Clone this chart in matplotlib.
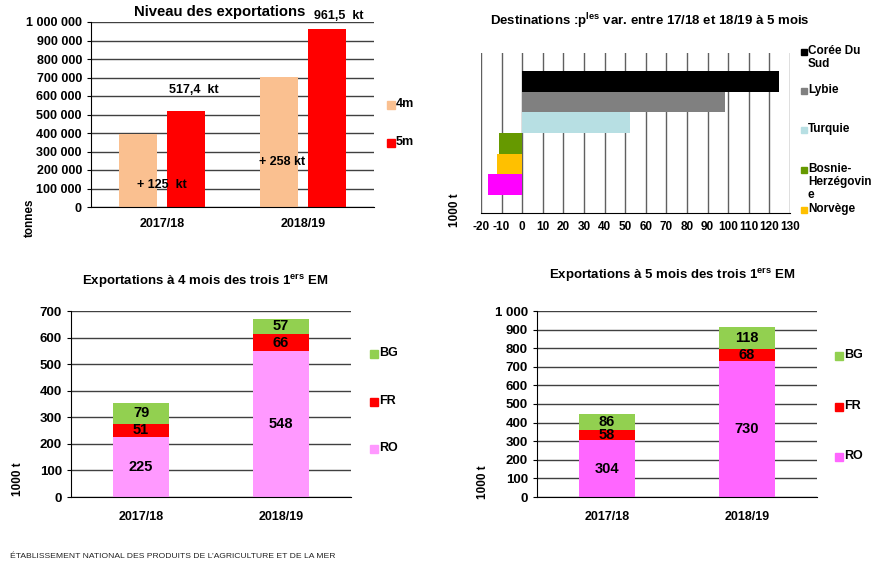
import matplotlib
matplotlib.use("Agg")
import matplotlib.pyplot as plt
from matplotlib.patches import Rectangle
from matplotlib.ticker import FuncFormatter, MultipleLocator
import numpy as np

plt.rcParams['font.family'] = ['Liberation Sans', 'DejaVu Sans']
plt.rcParams['font.weight'] = 'bold'
plt.rcParams['axes.unicode_minus'] = False
plt.rcParams['mathtext.fontset'] = 'custom'
plt.rcParams['mathtext.rm'] = 'Liberation Sans:bold'
plt.rcParams['mathtext.bf'] = 'Liberation Sans:bold'

# ---------------- donnees ----------------
campagnes = ["2017/18", "2018/19"]
exp_4m = [392400, 703500]
exp_5m = [517400, 961500]
annot_5m = ["517,4  kt", "961,5  kt"]
annot_diff = ["+ 125  kt", "+ 258 kt"]

destinations = ["Corée Du\nSud", "Lybie", "Turquie", "Bosnie-\nHerzégovin\ne", "Norvège", "Autre"]
var_dest = [124.5, 98.5, 52.5, -11.5, -12.0, -16.5]
col_dest = ["#000000", "#808080", "#b7dfe3", "#669900", "#ffc000", "#ff00ff"]

em = ["RO", "FR", "BG"]
em_4m = {"RO": [225, 548], "FR": [51, 66], "BG": [79, 57]}
em_5m = {"RO": [304, 730], "FR": [58, 68], "BG": [86, 118]}

W, H = 876, 564
fig = plt.figure(figsize=(W / 100, H / 100), dpi=100)


def box(l, t, r, b):
    # pixels -> coordonnees figure
    return [l / W, 1 - b / H, (r - l) / W, (b - t) / H]


def legende(x, y, couleur, texte, size=9, carre=8, dx=9):
    fig.patches.append(Rectangle((x / W, 1 - (y + carre / 2) / H), carre / W, carre / H,
                                 transform=fig.transFigure, color=couleur))
    fig.text((x + dx) / W, 1 - (y - 7) / H, texte, fontsize=size, va='top',
             ha='left', linespacing=1.1)


def fmt_sp(v, pos):
    return f"{v:,.0f}".replace(",", " ")


def style_axes(ax):
    ax.spines['top'].set_visible(False)
    ax.spines['right'].set_visible(False)
    ax.spines['left'].set_color('black')
    ax.spines['bottom'].set_color('black')
    ax.yaxis.grid(True, color='#404040', lw=1)
    ax.set_axisbelow(True)
    ax.tick_params(axis='y', length=3, labelsize=9)
    ax.tick_params(axis='x', length=0, labelsize=9, pad=8)
    ax.yaxis.set_major_formatter(FuncFormatter(fmt_sp))


# ---------------- Niveau des exportations ----------------
ax1 = fig.add_axes(box(91, 22, 374, 207))
x = np.arange(len(campagnes))
ax1.bar(x - 0.169, exp_4m, 0.268, color="#fac090")
ax1.bar(x + 0.169, exp_5m, 0.268, color="#ff0000")
ax1.set_xlim(-0.5, 1.5)
ax1.set_ylim(0, 1000000)
ax1.yaxis.set_major_locator(MultipleLocator(100000))
ax1.set_xticks(x, campagnes)
style_axes(ax1)
ax1.text(0.23, 630000, annot_5m[0], fontsize=9, ha='center', va='center')
ax1.text(1.25, 1035000, annot_5m[1], fontsize=9, ha='center', va='center', clip_on=False)
ax1.text(0.0, 120000, annot_diff[0], fontsize=9, ha='center', va='center')
ax1.text(0.85, 245000, annot_diff[1], fontsize=9, ha='center', va='center')
fig.text(220 / W, 1 - 12 / H, "Niveau des exportations", fontsize=10.7, ha='center', va='center')
fig.text(30 / W, 1 - 218 / H, "tonnes", fontsize=8.5, rotation=90, ha='center', va='center')
legende(387, 105, "#fac090", "4m")
legende(387, 143, "#ff0000", "5m")

# ---------------- Destinations ----------------
ax2 = fig.add_axes(box(481, 53, 790, 213))
ypos = np.arange(len(destinations))[::-1]
ax2.barh(ypos, var_dest, height=1.0, color=col_dest)
ax2.set_xlim(-20, 130)
ax2.set_ylim(-1.37, 6.37)
ax2.xaxis.set_major_locator(MultipleLocator(10))
ax2.set_yticks([])
for s in ['top', 'right', 'left']:
    ax2.spines[s].set_visible(False)
ax2.spines['bottom'].set_color('black')
ax2.xaxis.grid(True, color='#606060', lw=1)
ax2.set_axisbelow(True)
ax2.tick_params(axis='x', length=0, labelsize=8.5, pad=6)
fig.text(650 / W, 1 - 21 / H, r"Destinations :p$^{\mathbf{les}}$ var. entre 17/18 et 18/19 à 5 mois",
         fontsize=9.5, ha='center', va='center')
fig.text(455 / W, 1 - 210 / H, "1000 t", fontsize=8.5, rotation=90, ha='center', va='center')
leg_y = [52, 91, 130, 170, 210]
for i in range(5):
    legende(801, leg_y[i], col_dest[i], destinations[i], size=8.5, carre=6, dx=7)


# ---------------- Exportations des trois 1ers EM ----------------
def empile(ax, data, couleurs):
    bas = np.zeros(len(campagnes))
    for k in em:
        vals = np.array(data[k])
        ax.bar(x, vals, 0.4, bottom=bas, color=couleurs[k])
        for i, v in enumerate(vals):
            ax.text(x[i], bas[i] + v / 2, f"{v}", ha='center', va='center', fontsize=10.5)
        bas += vals


ax3 = fig.add_axes(box(71, 311, 351, 497))
empile(ax3, em_4m, {"RO": "#ff99ff", "FR": "#ff0000", "BG": "#92d050"})
ax3.set_xlim(-0.5, 1.5)
ax3.set_ylim(0, 700)
ax3.yaxis.set_major_locator(MultipleLocator(100))
ax3.set_xticks(x, campagnes)
style_axes(ax3)
ax3.tick_params(axis='y', labelsize=9.5)
ax3.tick_params(axis='x', pad=10)
fig.text(205 / W, 1 - 281 / H, r"Exportations à 4 mois des trois 1$^{\mathbf{ers}}$ EM",
         fontsize=9.5, ha='center', va='center')
fig.text(18 / W, 1 - 479 / H, "1000 t", fontsize=8.5, rotation=90, ha='center', va='center')
legende(370, 354, "#92d050", "BG")
legende(370, 402, "#ff0000", "FR")
legende(370, 449, "#ff99ff", "RO")

ax4 = fig.add_axes(box(537, 311, 817, 497))
empile(ax4, em_5m, {"RO": "#ff66ff", "FR": "#ff0000", "BG": "#92d050"})
ax4.set_xlim(-0.5, 1.5)
ax4.set_ylim(0, 1000)
ax4.yaxis.set_major_locator(MultipleLocator(100))
ax4.set_xticks(x, campagnes)
style_axes(ax4)
ax4.tick_params(axis='y', labelsize=9.5)
ax4.tick_params(axis='x', pad=10)
fig.text(672 / W, 1 - 275 / H, r"Exportations à 5 mois des trois 1$^{\mathbf{ers}}$ EM",
         fontsize=9.5, ha='center', va='center')
fig.text(483 / W, 1 - 482 / H, "1000 t", fontsize=8.5, rotation=90, ha='center', va='center')
legende(835, 356, "#92d050", "BG")
legende(835, 407, "#ff0000", "FR")
legende(835, 457, "#ff66ff", "RO")

fig.text(10 / W, 1 - 556 / H, "ÉTABLISSEMENT NATIONAL DES PRODUITS DE L’AGRICULTURE ET DE LA MER",
         fontsize=6.1, fontweight='normal', ha='left', va='center',
         family=['Liberation Sans Narrow', 'Liberation Sans', 'DejaVu Sans'], color='#222222')

fig.savefig("out.png", dpi=100)
